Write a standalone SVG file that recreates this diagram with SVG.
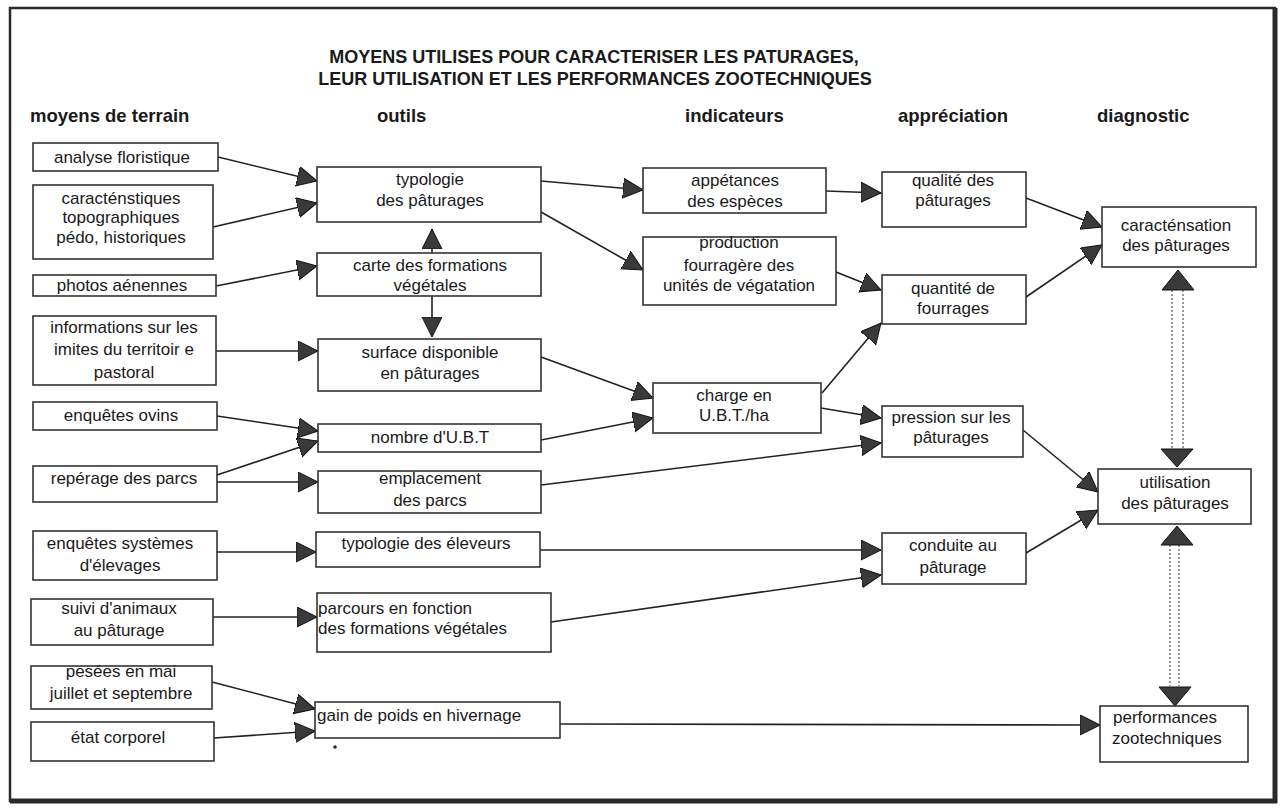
<svg xmlns="http://www.w3.org/2000/svg" width="1281" height="808" viewBox="0 0 1281 808">
<style>
  .bg { fill: #ffffff; }
  .frame { fill: none; stroke: #2a2a2a; stroke-width: 2.5; }
  .frameThick { stroke: #2a2a2a; stroke-width: 5; }
  .title { font-family: "Liberation Sans", Arial, sans-serif; font-weight: bold; font-size: 18px; fill: #1a1a1a; text-anchor: middle; }
  .head { font-family: "Liberation Sans", Arial, sans-serif; font-weight: bold; font-size: 18.5px; fill: #1a1a1a; }
  .box rect { fill: #ffffff; stroke: #333333; stroke-width: 1.6; }
  .box text { font-family: "Liberation Sans", Arial, sans-serif; font-size: 17px; fill: #1a1a1a; text-anchor: middle; }
  .box text.left { text-anchor: start; }
  .conn line { stroke: #222222; stroke-width: 1.6; marker-end: url(#ah); }
  .dots line { stroke: #555555; stroke-width: 1.2; stroke-dasharray: 2 2; }
  .bighead { fill: #3a3a3a; stroke: #111111; stroke-width: 1; }
</style>
<defs>
  <marker id="ah" markerUnits="userSpaceOnUse" markerWidth="22" markerHeight="22" refX="20" refY="10" orient="auto">
    <path d="M0,0 L20,10 L0,20 Z" fill="#3a3a3a" stroke="#111111" stroke-width="1"/>
  </marker>
</defs>
<rect class="bg" x="0" y="0" width="1281" height="808"/>
<rect class="frame" x="10" y="8" width="1265" height="793"/>
<line class="frameThick" x1="1275" y1="8" x2="1275" y2="803"/>
<line class="frameThick" x1="10" y1="801" x2="1277" y2="801"/>

<g id="title">
  <text class="title" x="594" y="63">MOYENS UTILISES POUR CARACTERISER LES PATURAGES,</text>
  <text class="title" x="595" y="85">LEUR UTILISATION ET LES PERFORMANCES ZOOTECHNIQUES</text>
</g>
<g id="headers">
  <text class="head" x="30" y="122">moyens de terrain</text>
  <text class="head" x="377" y="122">outils</text>
  <text class="head" x="685" y="122">indicateurs</text>
  <text class="head" x="898" y="122">appréciation</text>
  <text class="head" x="1097" y="122">diagnostic</text>
</g>

<g id="connectors">
  <g class="conn">
    <line x1="218" y1="157" x2="317" y2="181"/>
    <line x1="213" y1="227" x2="317" y2="203"/>
    <line x1="432" y1="253" x2="432" y2="229"/>
    <line x1="216" y1="286" x2="317" y2="266"/>
    <line x1="432" y1="296" x2="432" y2="337"/>
    <line x1="216" y1="351" x2="318" y2="351"/>
    <line x1="541" y1="181" x2="643" y2="190"/>
    <line x1="541" y1="212" x2="643" y2="270"/>
    <line x1="826" y1="191" x2="881" y2="193"/>
    <line x1="836" y1="272" x2="881" y2="290"/>
    <line x1="822" y1="393" x2="881" y2="323"/>
    <line x1="821" y1="408" x2="881" y2="418"/>
    <line x1="541" y1="357" x2="653" y2="398"/>
    <line x1="541" y1="440" x2="653" y2="418"/>
    <line x1="541" y1="485" x2="881" y2="443"/>
    <line x1="540" y1="550" x2="881" y2="550"/>
    <line x1="551" y1="622" x2="881" y2="575"/>
    <line x1="1026" y1="198" x2="1102" y2="227"/>
    <line x1="1026" y1="297" x2="1102" y2="245"/>
    <line x1="1023" y1="430" x2="1098" y2="492"/>
    <line x1="1026" y1="553" x2="1098" y2="510"/>
    <line x1="560" y1="724" x2="1100" y2="725"/>
    <line x1="217" y1="416" x2="318" y2="431"/>
    <line x1="217" y1="475" x2="318" y2="441"/>
    <line x1="217" y1="482" x2="318" y2="482"/>
    <line x1="217" y1="552" x2="316" y2="552"/>
    <line x1="212" y1="617" x2="317" y2="617"/>
    <line x1="212" y1="682" x2="315" y2="709"/>
    <line x1="214" y1="738" x2="315" y2="731"/>
  </g>
  <g class="dots">
    <line x1="1172" y1="290" x2="1172" y2="448"/>
    <line x1="1183" y1="290" x2="1183" y2="448"/>
    <line x1="1170" y1="545" x2="1170" y2="686"/>
    <line x1="1179" y1="545" x2="1179" y2="686"/>
  </g>
  <polygon class="bighead" points="1178,270 1194,290 1162,290"/>
  <polygon class="bighead" points="1161,449 1193,449 1177,467"/>
  <polygon class="bighead" points="1177,526 1193,545 1161,545"/>
  <polygon class="bighead" points="1159,687 1191,687 1175,706"/>
</g>

<g id="n_analyse" class="box"><rect x="33" y="143" width="185" height="28"/><text x="122" y="163">analyse floristique</text></g>
<g id="n_caract" class="box"><rect x="33" y="185" width="180" height="74"/><text x="121" y="204">caracténstiques</text><text x="121" y="223">topographiques</text><text x="121" y="243">pédo, historiques</text></g>
<g id="n_photos" class="box"><rect x="33" y="275" width="183" height="21"/><text x="122" y="291">photos aénennes</text></g>
<g id="n_infos" class="box"><rect x="33" y="316" width="183" height="69"/><text x="124" y="333">informations sur les</text><text x="124" y="355">imites du territoir e</text><text x="124" y="378">pastoral</text></g>
<g id="n_ovins" class="box"><rect x="33" y="402" width="184" height="28"/><text x="121" y="421">enquêtes ovins</text></g>
<g id="n_reperage" class="box"><rect x="33" y="466" width="184" height="36"/><text x="124" y="484">repérage des parcs</text></g>
<g id="n_systemes" class="box"><rect x="33" y="531" width="184" height="49"/><text x="120" y="549">enquêtes systèmes</text><text x="120" y="571">d'élevages</text></g>
<g id="n_suivi" class="box"><rect x="31" y="599" width="182" height="46"/><text x="119" y="614">suivi d'animaux</text><text x="119" y="636">au pâturage</text></g>
<g id="n_pesees" class="box"><rect x="31" y="666" width="181" height="43"/><text x="121" y="677">pesées en mai</text><text x="121" y="699">juillet et septembre</text></g>
<g id="n_etat" class="box"><rect x="31" y="722" width="183" height="39"/><text x="118" y="743">état corporel</text></g>

<g id="n_typologie" class="box"><rect x="317" y="167" width="224" height="55"/><text x="430" y="185">typologie</text><text x="430" y="206">des pâturages</text></g>
<g id="n_carte" class="box"><rect x="317" y="253" width="224" height="43"/><text x="430" y="271">carte des formations</text><text x="430" y="291">végétales</text></g>
<g id="n_surface" class="box"><rect x="318" y="339" width="223" height="52"/><text x="430" y="358">surface disponible</text><text x="430" y="379">en pâturages</text></g>
<g id="n_nombre" class="box"><rect x="318" y="424" width="223" height="28"/><text x="430" y="443">nombre d'U.B.T</text></g>
<g id="n_emplacement" class="box"><rect x="318" y="471" width="223" height="42"/><text x="430" y="484">emplacement</text><text x="430" y="506">des parcs</text></g>
<g id="n_eleveurs" class="box"><rect x="316" y="532" width="224" height="35"/><text x="426" y="549">typologie des éleveurs</text></g>
<g id="n_parcours" class="box"><rect x="317" y="593" width="234" height="59"/><text class="left" x="318" y="614">parcours en fonction</text><text class="left" x="318" y="634">des formations végétales</text></g>
<g id="n_gain" class="box"><rect x="315" y="702" width="245" height="36"/><text class="left" x="317" y="721">gain de poids en hivernage</text><circle cx="335" cy="747" r="1.8" fill="#222"/></g>

<g id="n_appetances" class="box"><rect x="643" y="168" width="183" height="45"/><text x="735" y="186">appétances</text><text x="735" y="207">des espèces</text></g>
<g id="n_production" class="box"><rect x="643" y="237" width="193" height="68"/><text x="739" y="248">production</text><text x="739" y="271">fourragère des</text><text x="739" y="291">unités de végatation</text></g>
<g id="n_charge" class="box"><rect x="653" y="383" width="168" height="50"/><text x="734" y="401">charge en</text><text x="734" y="421">U.B.T./ha</text></g>

<g id="n_qualite" class="box"><rect x="882" y="172" width="144" height="55"/><text x="953" y="186">qualité des</text><text x="953" y="206">pâturages</text></g>
<g id="n_quantite" class="box"><rect x="882" y="275" width="144" height="49"/><text x="953" y="294">quantité de</text><text x="953" y="314">fourrages</text></g>
<g id="n_pression" class="box"><rect x="882" y="406" width="141" height="51"/><text x="951" y="423">pression sur les</text><text x="951" y="443">pâturages</text></g>
<g id="n_conduite" class="box"><rect x="882" y="533" width="144" height="51"/><text x="953" y="551">conduite au</text><text x="953" y="573">pâturage</text></g>

<g id="n_caracterisation" class="box"><rect x="1102" y="207" width="154" height="60"/><text x="1176" y="231">caracténsation</text><text x="1176" y="251">des pâturages</text></g>
<g id="n_utilisation" class="box"><rect x="1098" y="469" width="153" height="55"/><text x="1175" y="488">utilisation</text><text x="1175" y="509">des pâturages</text></g>
<g id="n_performances" class="box"><rect x="1100" y="706" width="148" height="56"/><text class="left" x="1113" y="723">performances</text><text class="left" x="1112" y="744">zootechniques</text></g>
</svg>
